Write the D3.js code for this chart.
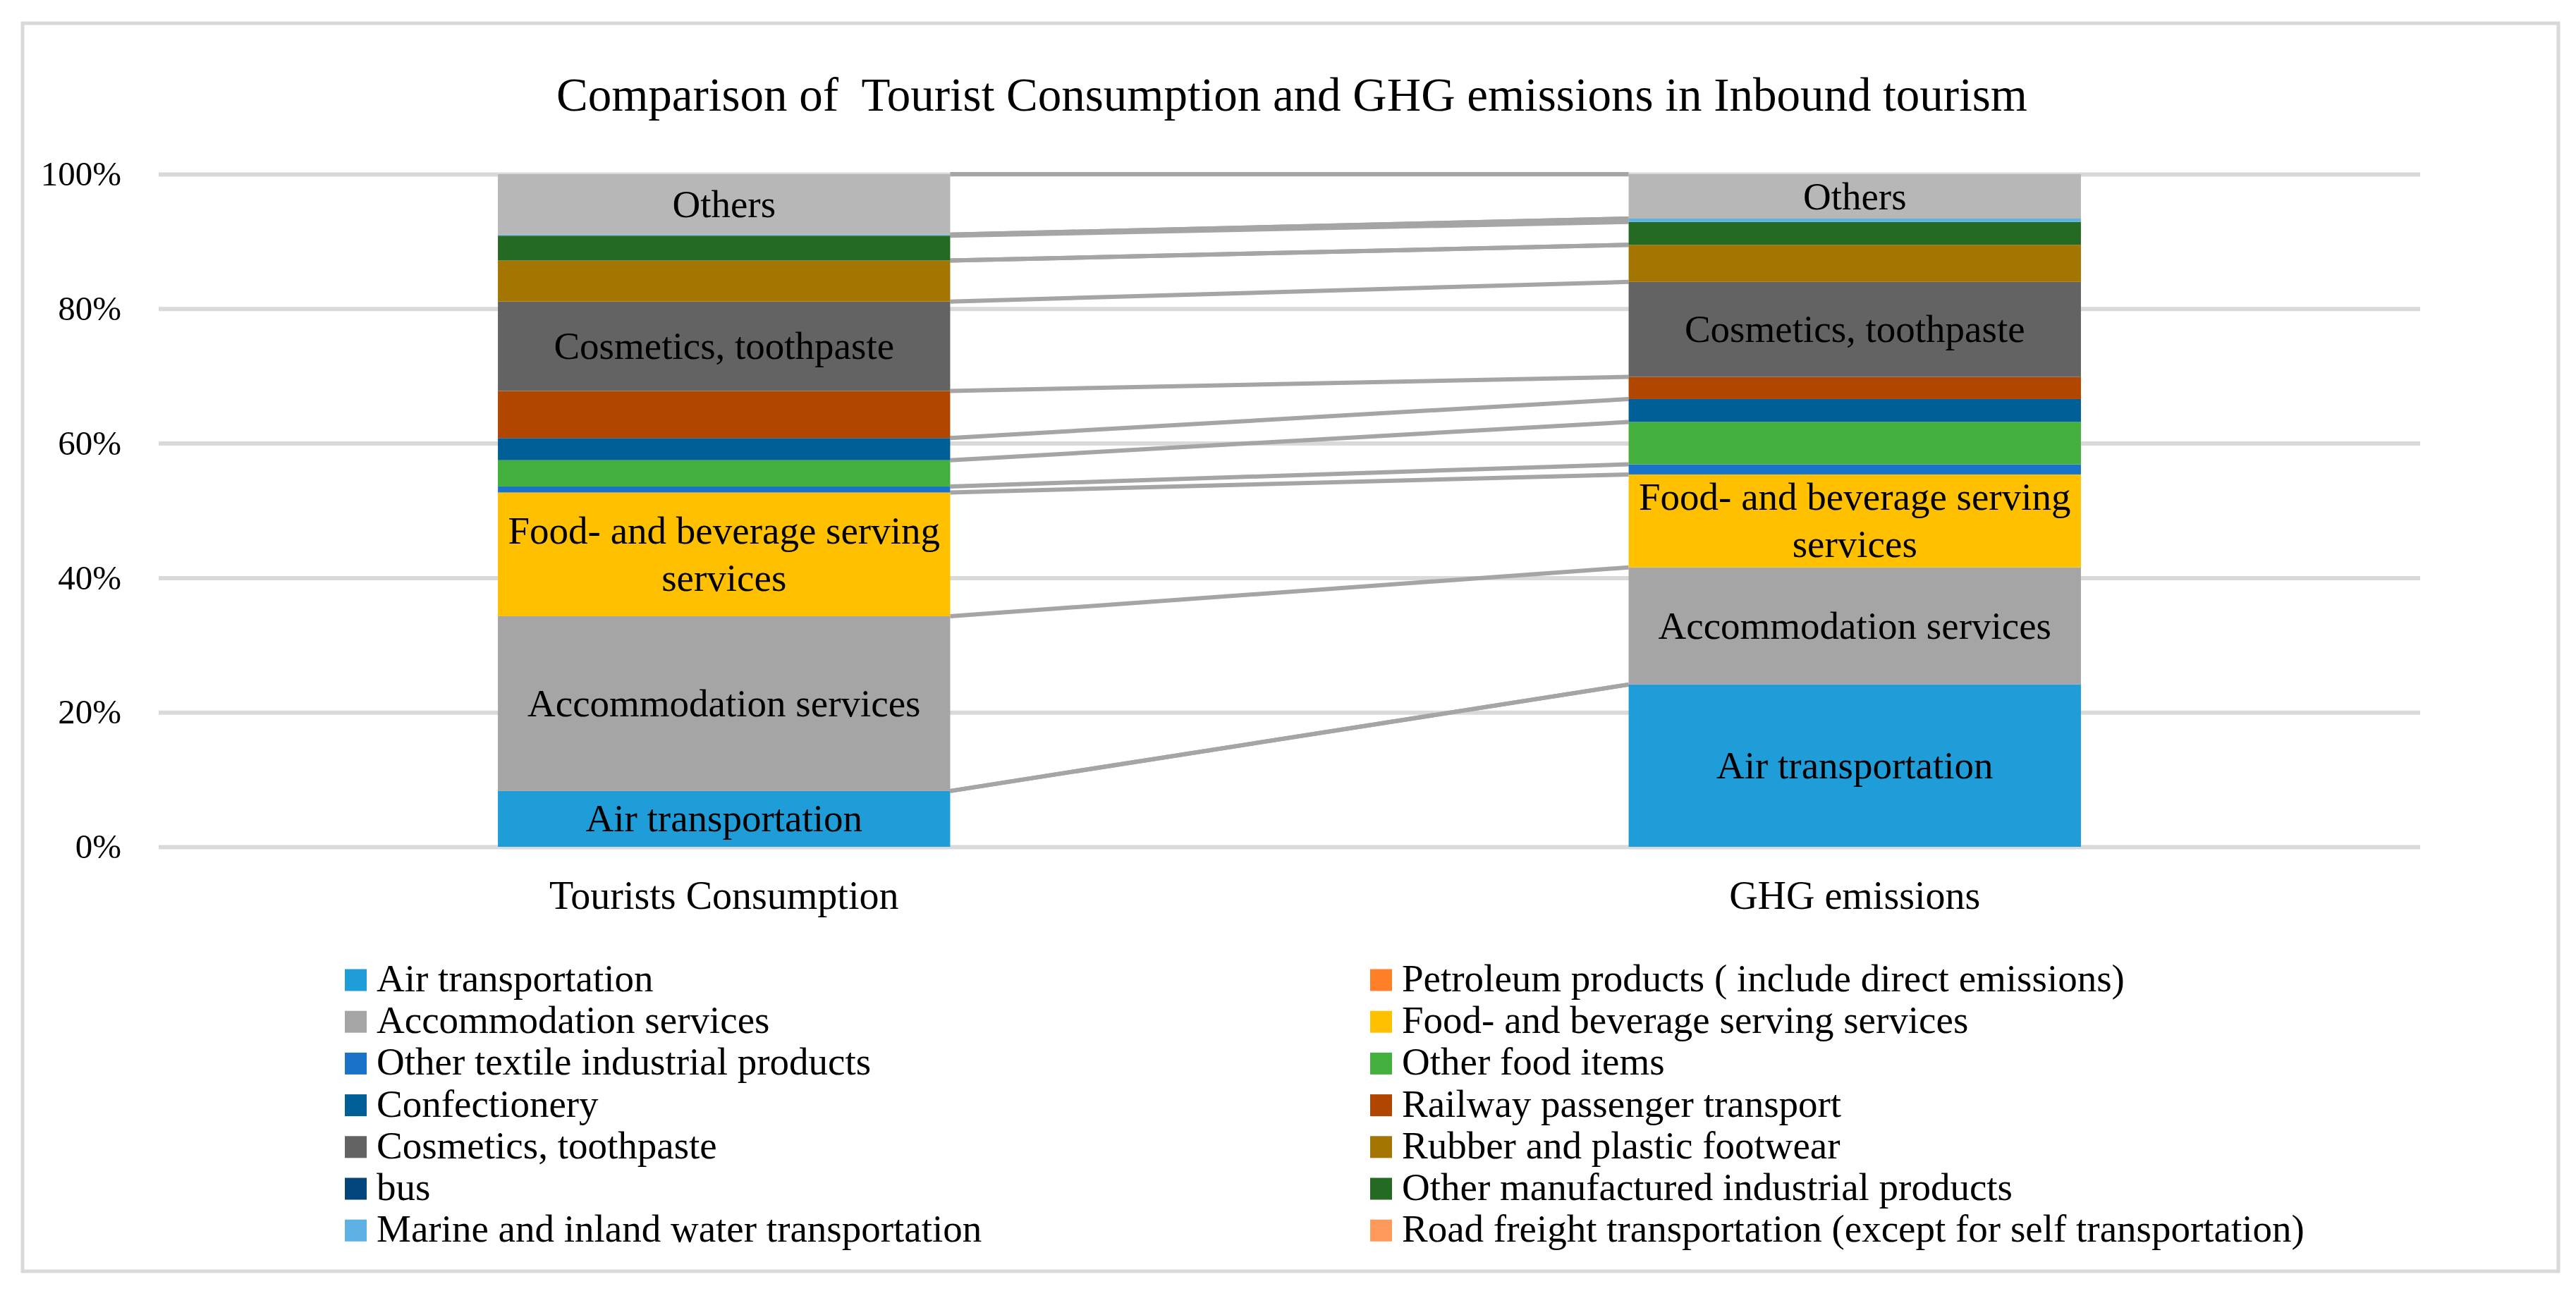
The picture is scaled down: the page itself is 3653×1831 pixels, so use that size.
<!DOCTYPE html>
<html lang="en">
<head>
<meta charset="utf-8">
<script src="https://cdn.jsdelivr.net/npm/d3@7"></script>
<title>Comparison of Tourist Consumption and GHG emissions in Inbound tourism</title>
<style>
  body { margin: 0; background: #fff; }
  text { font-family: "Liberation Serif", "Times New Roman", serif; fill: #000; }
  .grid line { stroke: #d9d9d9; stroke-width: 6; }
  .grid .domain { display: none; }
  .seriesLine { stroke: #a5a5a5; stroke-width: 6; fill: none; }
</style>
</head>
<body>
<div id="chart"></div>
<script>
// categories on the x axis
var categories = ["Tourists Consumption", "GHG emissions"];

// series in stacking order (bottom -> top), same order as the legend
var seriesNames = [
  "Air transportation",
  "Petroleum products ( include direct emissions)",
  "Accommodation services",
  "Food- and beverage serving services",
  "Other textile industrial products",
  "Other food items",
  "Confectionery",
  "Railway passenger transport",
  "Cosmetics, toothpaste",
  "Rubber and plastic footwear",
  "bus",
  "Other manufactured industrial products",
  "Marine and inland water transportation",
  "Road freight transportation (except for self transportation)",
  "Others"
];

// shares in percent
var touristShare = [8.3, 0, 26.0, 18.4, 0.9, 3.9, 3.3, 7.0, 13.3, 6.1, 0, 3.7, 0.15, 0, 9.0];
var ghgShare     = [24.1, 0, 17.4, 13.8, 1.5, 6.3, 3.4, 3.3, 14.1, 5.5, 0, 3.4, 0.5, 0, 6.6];

var seriesColors = [
  "#1e9dd8", "#ff8029", "#a5a5a5", "#ffc000", "#1a73c8", "#43af3c", "#005f96",
  "#b04600", "#636363", "#a47500", "#02457a", "#256a23", "#5db1e4", "#ff9a5c", "#b7b7b7"
];

// series that carry a name label inside the bars
var labelledSeries = {
  "Air transportation": ["Air transportation"],
  "Accommodation services": ["Accommodation services"],
  "Food- and beverage serving services": ["Food- and beverage serving", "services"],
  "Cosmetics, toothpaste": ["Cosmetics, toothpaste"],
  "Others": ["Others"]
};

var yTicks = [0, 0.2, 0.4, 0.6, 0.8, 1.0];
var legendSeries = seriesNames.slice(0, 14);

var title = "Comparison of  Tourist Consumption and GHG emissions in Inbound tourism";

var width = 3653, height = 1831;
var plot = {left: 225, right: 3432, top: 247, bottom: 1201};

var svg = d3.select("#chart").append("svg")
  .attr("width", width)
  .attr("height", height);

svg.append("rect")
  .attr("width", width).attr("height", height)
  .attr("fill", "#fff");

// outer chart border
svg.append("rect")
  .attr("x", 32).attr("y", 33)
  .attr("width", 3596).attr("height", 1770)
  .attr("fill", "none")
  .attr("stroke", "#d9d9d9")
  .attr("stroke-width", 5);

svg.append("text")
  .attr("x", 1832)
  .attr("y", 157)
  .attr("text-anchor", "middle")
  .style("font-size", "67px")
  .style("white-space", "pre")
  .text(title);

var table = categories.map(function(c, j) {
  var row = {category: c};
  seriesNames.forEach(function(s, i) {
    row[s] = (j === 0 ? touristShare : ghgShare)[i];
  });
  return row;
});

var stack = d3.stack()
  .keys(seriesNames)
  .offset(d3.stackOffsetExpand);
var stacked = stack(table);

var x = d3.scaleBand()
  .domain(categories)
  .range([plot.left, plot.right])
  .paddingInner(0.6)
  .paddingOuter(0.3);

var y = d3.scaleLinear()
  .domain([0, 1])
  .range([plot.bottom, plot.top]);

var color = d3.scaleOrdinal()
  .domain(seriesNames)
  .range(seriesColors);

// gridlines + percent labels
svg.append("g")
  .attr("class", "grid")
  .attr("transform", "translate(" + plot.left + ",0)")
  .call(d3.axisLeft(y)
    .tickValues(yTicks)
    .tickFormat(d3.format(".0%"))
    .tickSize(-(plot.right - plot.left))
    .tickPadding(53))
  .selectAll("text")
  .style("font-size", "49px")
  .style("font-family", "'Liberation Serif', serif")
  .attr("fill", "#000");

// series lines between the two bars (top of each series)
var x0 = x(categories[0]) + x.bandwidth();
var x1 = x(categories[1]);
svg.append("g")
  .selectAll("line")
  .data(stacked)
  .enter().append("line")
  .attr("class", "seriesLine")
  .attr("x1", x0)
  .attr("x2", x1)
  .attr("y1", function(s) { return y(s[0][1]); })
  .attr("y2", function(s) { return y(s[1][1]); });

// stacked bars
var layers = svg.append("g")
  .selectAll("g")
  .data(stacked)
  .enter().append("g")
  .attr("fill", function(s) { return color(s.key); });

layers.selectAll("rect")
  .data(function(s) { return s; })
  .enter().append("rect")
  .attr("x", function(d) { return x(d.data.category); })
  .attr("width", x.bandwidth())
  .attr("y", function(d) { return y(d[1]); })
  .attr("height", function(d) { return y(d[0]) - y(d[1]); });

// series name labels inside bars
stacked.forEach(function(s) {
  var lines = labelledSeries[s.key];
  if (!lines) return;
  s.forEach(function(d) {
    var mid = (y(d[0]) + y(d[1])) / 2;
    var lh = 67;
    var t = svg.append("text")
      .attr("text-anchor", "middle")
      .style("font-size", "55px");
    lines.forEach(function(l, k) {
      t.append("tspan")
        .attr("x", x(d.data.category) + x.bandwidth() / 2)
        .attr("y", mid + (k - (lines.length - 1) / 2) * lh + 18)
        .text(l);
    });
  });
});

// category labels
svg.append("g")
  .selectAll("text")
  .data(categories)
  .enter().append("text")
  .attr("x", function(d) { return x(d) + x.bandwidth() / 2; })
  .attr("y", 1289)
  .attr("text-anchor", "middle")
  .style("font-size", "56px")
  .text(function(d) { return d; });

// legend, two columns filled row by row
var legendX = [489, 1943];
var legendY0 = 1390, legendStep = 59.2, sw = 31;

var legend = svg.append("g")
  .selectAll("g")
  .data(legendSeries)
  .enter().append("g")
  .attr("transform", function(d, i) {
    return "translate(" + legendX[i % 2] + "," + (legendY0 + Math.floor(i / 2) * legendStep) + ")";
  });

legend.append("rect")
  .attr("x", 0)
  .attr("y", -sw / 2)
  .attr("width", sw)
  .attr("height", sw)
  .attr("fill", function(d) { return color(d); });

legend.append("text")
  .attr("x", 45)
  .attr("y", 16)
  .style("font-size", "55px")
  .text(function(d) { return d; });
</script>
</body>
</html>
